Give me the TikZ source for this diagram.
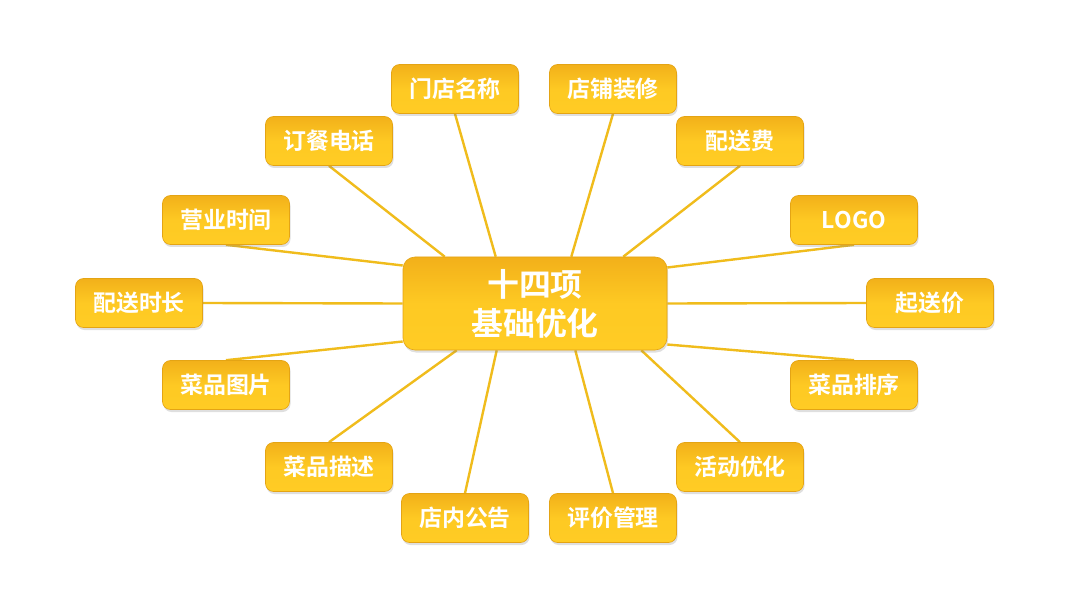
\documentclass[tikz,border=0pt]{standalone}
\usepackage{fontspec}
\newfontfamily\cjk{Noto Sans CJK SC Bold}
\usetikzlibrary{shadows,calc}
\pgfdeclarelayer{bg}
\pgfdeclarelayer{mid}
\pgfsetlayers{bg,mid,main}
\definecolor{linec}{RGB}{240,188,28}
\definecolor{boxtop}{RGB}{242,176,26}
\definecolor{boxbot}{RGB}{255,204,36}
\definecolor{boxdraw}{RGB}{228,164,20}
\tikzset{
  leaf/.style={draw=boxdraw, line width=0.6bp, rounded corners=8bp,
    top color=boxtop, bottom color=boxbot, middle color=boxbot!90!boxtop,
    minimum width=127bp, minimum height=49bp, inner sep=0pt,
    font=\cjk\fontsize{23}{26}\selectfont, text=white,
    drop shadow={opacity=0.25, shadow xshift=1bp, shadow yshift=-2.5bp}},
  hub/.style={leaf, minimum width=264bp, minimum height=93bp, rounded corners=12bp,
    font=\cjk\fontsize{32}{39}\selectfont, align=center},
  link/.style={draw=linec, line width=2.4bp}
}
\begin{document}
\begin{tikzpicture}[x=1bp,y=-1bp]
\begin{pgfonlayer}{bg}
\fill[white] (0,0) rectangle (1080,599);
\end{pgfonlayer}
\useasboundingbox (0,0) rectangle (1080,599);
\node[hub] (hub) at (535,303.5) {十四项\\基础优化};
\node[leaf] (n1) at (455,89) {门店名称};
\node[leaf] (n2) at (613,89) {店铺装修};
\node[leaf] (n3) at (740,141) {配送费};
\node[leaf] (n4) at (854,220) {LOGO};
\node[leaf] (n5) at (930,303) {起送价};
\node[leaf] (n6) at (854,385) {菜品排序};
\node[leaf] (n7) at (740,467) {活动优化};
\node[leaf] (n8) at (613,518) {评价管理};
\node[leaf] (n9) at (465,518) {店内公告};
\node[leaf] (n10) at (329,467) {菜品描述};
\node[leaf] (n11) at (226,385) {菜品图片};
\node[leaf] (n12) at (139,303) {配送时长};
\node[leaf] (n13) at (226,220) {营业时间};
\node[leaf] (n14) at (329,141) {订餐电话};
% attachment points on the hub
\coordinate (t1) at ($(hub.north west)+(42,0)$);
\coordinate (t2) at ($(hub.north west)+(93,0)$);
\coordinate (t3) at ($(hub.north east)+(-96,0)$);
\coordinate (t4) at ($(hub.north east)+(-44,0)$);
\coordinate (b1) at ($(hub.south west)+(54,0)$);
\coordinate (b2) at ($(hub.south west)+(94,0)$);
\coordinate (b3) at ($(hub.south east)+(-92,0)$);
\coordinate (b4) at ($(hub.south east)+(-26,0)$);
\coordinate (l1) at ($(hub.west)+(0,-38)$);
\coordinate (l2) at (hub.west);
\coordinate (l3) at ($(hub.west)+(0,38)$);
\coordinate (r1) at ($(hub.east)+(0,-36)$);
\coordinate (r2) at (hub.east);
\coordinate (r3) at ($(hub.east)+(0,41)$);
\begin{pgfonlayer}{mid}
\draw[link] (n14.south) -- (t1);
\draw[link] (n1.south) -- (t2);
\draw[link] (n2.south) -- (t3);
\draw[link] (n3.south) -- (t4);
\draw[link] (n10.north) -- (b1);
\draw[link] (n9.north) -- (b2);
\draw[link] (n8.north) -- (b3);
\draw[link] (n7.north) -- (b4);
\draw[link] (n13.south) -- (l1);
\draw[link] (n12.east) -- (l2);
\draw[link] (n11.north) -- (l3);
\draw[link] (n4.south) -- (r1);
\draw[link] (n5.west) -- (r2);
\draw[link] (n6.north) -- (r3);
\end{pgfonlayer}
\end{tikzpicture}
\end{document}
